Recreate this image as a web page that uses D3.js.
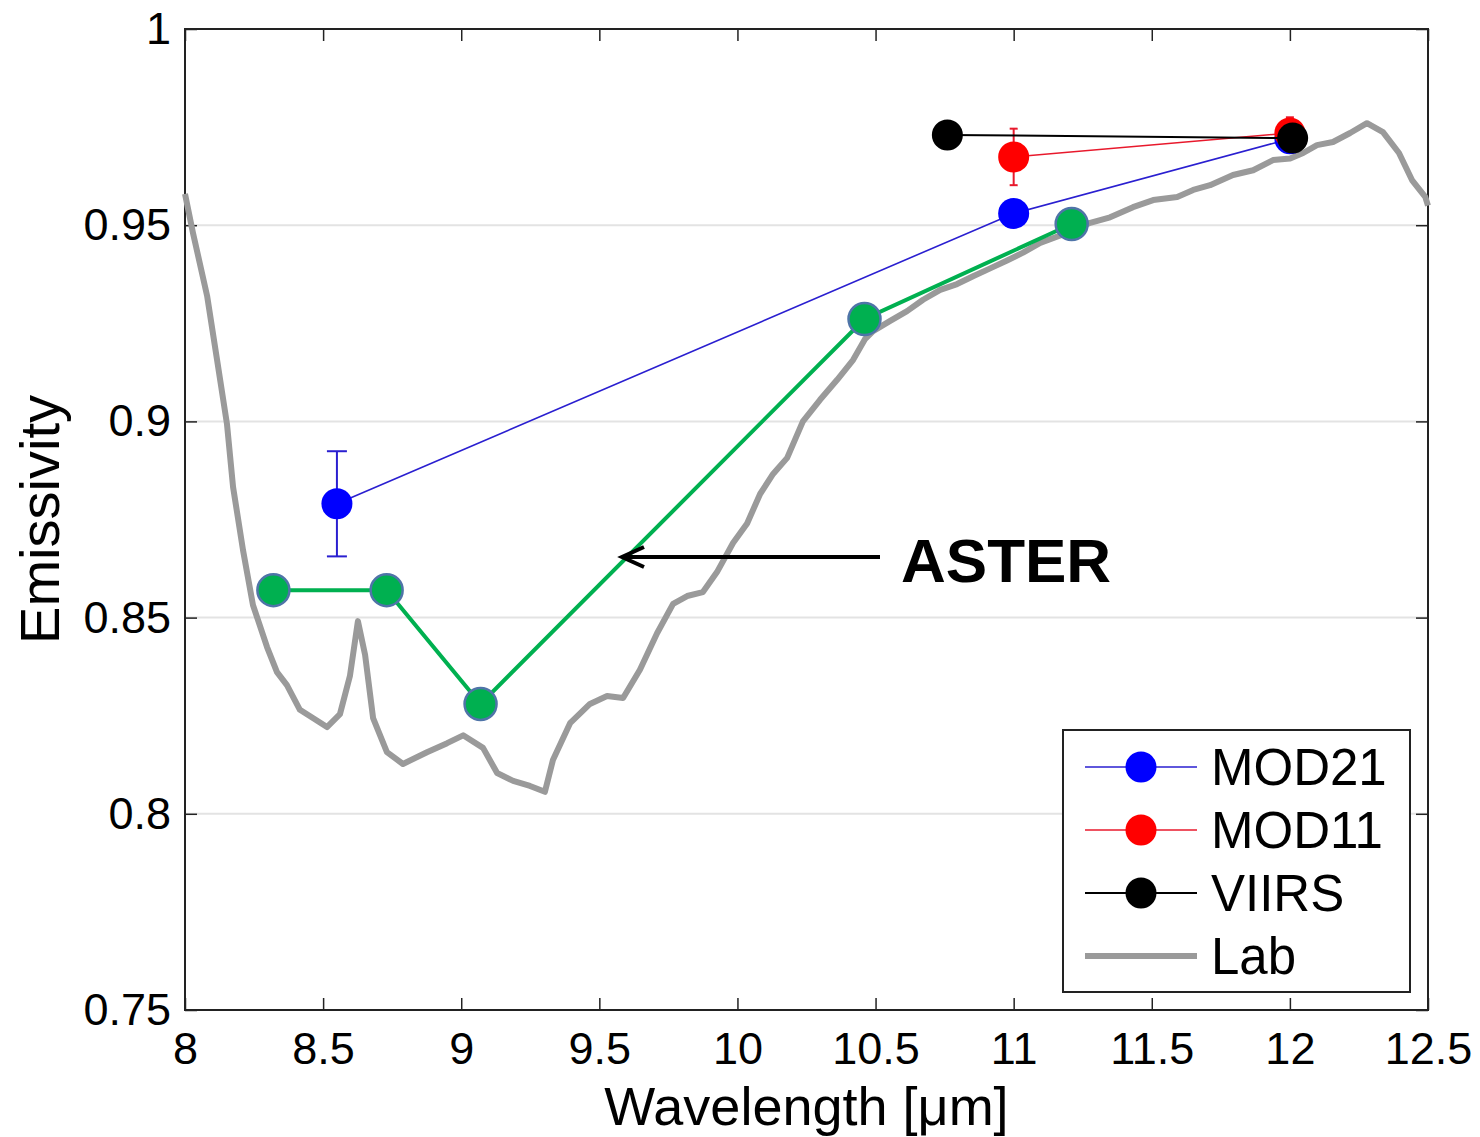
<!DOCTYPE html>
<html>
<head>
<meta charset="utf-8">
<script src="https://cdn.jsdelivr.net/npm/d3@7"></script>
<style>
  html, body { margin: 0; padding: 0; background: #fff; }
  svg { display: block; font-family: "Liberation Sans", Arial, Helvetica, sans-serif; }
</style>
</head>
<body>
<svg id="chart" width="1480" height="1137"></svg>
<script>
// Laboratory emissivity spectrum (wavelength in µm, emissivity)
const labWavelength = [8.0, 8.029, 8.08, 8.116, 8.152, 8.174, 8.21, 8.246, 8.297, 8.333, 8.369, 8.416, 8.463,
  8.514, 8.561, 8.597, 8.626, 8.652, 8.681, 8.731, 8.789, 8.876, 8.949, 9.007, 9.079, 9.13, 9.188, 9.249,
  9.303, 9.332, 9.394, 9.466, 9.528, 9.586, 9.647, 9.709, 9.767, 9.818, 9.875, 9.926, 9.984, 10.035, 10.082,
  10.129, 10.18, 10.237, 10.299, 10.361, 10.419, 10.462, 10.491, 10.553, 10.614, 10.672, 10.734, 10.795,
  10.853, 10.915, 10.976, 11.034, 11.096, 11.193, 11.277, 11.349, 11.432, 11.505, 11.592, 11.65, 11.711,
  11.794, 11.867, 11.939, 12.001, 12.048, 12.098, 12.156, 12.218, 12.279, 12.337, 12.395, 12.442, 12.49, 12.5];
const labEmissivity = [0.958, 0.948, 0.932, 0.9157, 0.8993, 0.8833, 0.8672, 0.8532, 0.8425, 0.8361, 0.8328,
  0.8265, 0.8244, 0.8221, 0.8254, 0.8351, 0.8491, 0.8405, 0.8244, 0.8157, 0.8127, 0.8157, 0.818, 0.820,
  0.8168, 0.8104, 0.8084, 0.8071, 0.8056, 0.8137, 0.8231, 0.828, 0.830, 0.8295, 0.8367, 0.846, 0.8535,
  0.8555, 0.8565, 0.8616, 0.869, 0.874, 0.8815, 0.8866, 0.8907, 0.900, 0.9055, 0.9106, 0.9157, 0.921,
  0.923, 0.9256, 0.9281, 0.931, 0.9335, 0.935, 0.937, 0.939, 0.941, 0.943, 0.9455, 0.948, 0.9506, 0.952,
  0.9546, 0.9564, 0.9572, 0.959, 0.9602, 0.9628, 0.964, 0.9666, 0.967, 0.9684, 0.9704, 0.9712, 0.9735,
  0.976, 0.9737, 0.9684, 0.9615, 0.9572, 0.955];

// ASTER band emissivities
const asterWavelength = [8.32, 8.73, 9.07, 10.46, 11.21];
const asterEmissivity = [0.857, 0.857, 0.828, 0.9261, 0.9503];

// MOD21 band emissivities with uncertainty
const mod21Wavelength = [8.55, 11.0, 12.0];
const mod21Emissivity = [0.879, 0.953, 0.972];
const mod21Error = [0.0134, 0, 0];

// MOD11 band emissivities with uncertainty
const mod11Wavelength = [11.0, 12.0];
const mod11Emissivity = [0.9674, 0.9735];
const mod11Error = [0.0072, 0.004];

// VIIRS band emissivities
const viirsWavelength = [10.76, 12.01];
const viirsEmissivity = [0.973, 0.9722];

const xTicks = [8, 8.5, 9, 9.5, 10, 10.5, 11, 11.5, 12, 12.5];
const yTicks = [0.75, 0.8, 0.85, 0.9, 0.95, 1];
const gridValues = [0.8, 0.85, 0.9, 0.95];

const legendLabels = ["MOD21", "MOD11", "VIIRS", "Lab"];

const svg = d3.select("#chart");
const margin = { left: 185, right: 52, top: 29, bottom: 127 };
const W = 1480, H = 1137;
const iw = W - margin.left - margin.right;
const ih = H - margin.top - margin.bottom;

const x = d3.scaleLinear().domain([8, 12.5]).range([0, iw]);
const y = d3.scaleLinear().domain([0.75, 1]).range([ih, 0]);

const g = svg.append("g").attr("transform", `translate(${margin.left},${margin.top})`);

// horizontal grid lines
g.append("g").selectAll("line").data(gridValues).join("line")
  .attr("x1", 0).attr("x2", iw)
  .attr("y1", d => y(d)).attr("y2", d => y(d))
  .attr("stroke", "#e3e3e3").attr("stroke-width", 2);

const fmt = d => String(+d.toFixed(2));
const tickLen = 12;

// axes with inward ticks on all four sides
const axB = g.append("g").attr("transform", `translate(0,${ih})`)
  .call(d3.axisBottom(x).tickValues(xTicks).tickSizeInner(-tickLen).tickSizeOuter(0).tickPadding(22).tickFormat(fmt));
const axT = g.append("g")
  .call(d3.axisTop(x).tickValues(xTicks).tickSizeInner(-tickLen).tickSizeOuter(0).tickFormat(""));
const axL = g.append("g")
  .call(d3.axisLeft(y).tickValues(yTicks).tickSizeInner(-tickLen).tickSizeOuter(0).tickPadding(14).tickFormat(fmt));
const axR = g.append("g").attr("transform", `translate(${iw},0)`)
  .call(d3.axisRight(y).tickValues(yTicks).tickSizeInner(-tickLen).tickSizeOuter(0).tickFormat(""));

[axB, axT, axL, axR].forEach(a => {
  a.select(".domain").remove();
  a.selectAll(".tick line").attr("stroke", "#222").attr("stroke-width", 1.5);
  a.selectAll(".tick text").attr("fill", "#000").attr("font-size", 45)
    .attr("font-family", "'Liberation Sans', Arial, sans-serif");
});
axB.selectAll(".tick text").attr("dy", "0.71em");

// plot frame
g.append("rect").attr("x", 0).attr("y", 0).attr("width", iw).attr("height", ih)
  .attr("fill", "none").attr("stroke", "#222").attr("stroke-width", 2);

// axis titles
svg.append("text")
  .attr("x", margin.left + iw / 2).attr("y", 1125)
  .attr("text-anchor", "middle").attr("font-size", 54).attr("fill", "#000")
  .text("Wavelength [\u03bcm]");
svg.append("text")
  .attr("transform", `translate(59,${margin.top + y(0.875)}) rotate(-90)`)
  .attr("text-anchor", "middle").attr("font-size", 56).attr("fill", "#000")
  .text("Emissivity");

const line = d3.line().x(d => x(d[0])).y(d => y(d[1]));

// lab spectrum
const labData = labWavelength.map((w, i) => [w, labEmissivity[i]]);
g.append("path").datum(labData).attr("d", line)
  .attr("fill", "none").attr("stroke", "#9a9a9a").attr("stroke-width", 6)
  .attr("stroke-linejoin", "round");

// ASTER
const asterData = asterWavelength.map((w, i) => [w, asterEmissivity[i]]);
g.append("path").datum(asterData).attr("d", line)
  .attr("fill", "none").attr("stroke", "#00b050").attr("stroke-width", 4);
g.append("g").selectAll("circle").data(asterData).join("circle")
  .attr("cx", d => x(d[0])).attr("cy", d => y(d[1])).attr("r", 16)
  .attr("fill", "#00b050").attr("stroke", "#4f74a8").attr("stroke-width", 2.5);

function drawSeries(ws, es, errs, lineColor, markerColor, lineWidth, capHalf) {
  const data = ws.map((w, i) => [w, es[i], errs ? errs[i] : 0]);
  g.append("path").datum(data).attr("d", line)
    .attr("fill", "none").attr("stroke", lineColor).attr("stroke-width", lineWidth);
  const eb = g.append("g").attr("stroke", lineColor).attr("stroke-width", 2);
  data.filter(d => d[2] > 0).forEach(d => {
    const cx = x(d[0]), y0 = y(d[1] - d[2]), y1 = y(d[1] + d[2]);
    eb.append("line").attr("x1", cx).attr("x2", cx).attr("y1", y0).attr("y2", y1);
    eb.append("line").attr("x1", cx - capHalf).attr("x2", cx + capHalf).attr("y1", y0).attr("y2", y0);
    eb.append("line").attr("x1", cx - capHalf).attr("x2", cx + capHalf).attr("y1", y1).attr("y2", y1);
  });
  g.append("g").selectAll("circle").data(data).join("circle")
    .attr("cx", d => x(d[0])).attr("cy", d => y(d[1])).attr("r", 15.5)
    .attr("fill", markerColor);
}

drawSeries(mod21Wavelength, mod21Emissivity, mod21Error, "#2a1fd0", "#0000ff", 1.6, 10);
drawSeries(mod11Wavelength, mod11Emissivity, mod11Error, "#e8192c", "#ff0000", 1.6, 4);
drawSeries(viirsWavelength, viirsEmissivity, null, "#000000", "#000000", 2, 0);

// ASTER annotation
const arrowY = 557, arrowX0 = 880, arrowX1 = 622;
g.append("line")
  .attr("x1", arrowX0 - margin.left).attr("x2", arrowX1 - margin.left + 2)
  .attr("y1", arrowY - margin.top).attr("y2", arrowY - margin.top)
  .attr("stroke", "#000").attr("stroke-width", 4);
g.append("path")
  .attr("d", `M${arrowX1 - margin.left + 22},${arrowY - margin.top - 10} L${arrowX1 - margin.left},${arrowY - margin.top} L${arrowX1 - margin.left + 22},${arrowY - margin.top + 10}`)
  .attr("fill", "none").attr("stroke", "#000").attr("stroke-width", 4);
svg.append("text").attr("x", 901).attr("y", 582)
  .attr("font-size", 62).attr("font-weight", "bold").attr("fill", "#000")
  .text("ASTER");

// legend
const leg = svg.append("g");
leg.append("rect").attr("x", 1063).attr("y", 730).attr("width", 347).attr("height", 262)
  .attr("fill", "#fff").attr("stroke", "#222").attr("stroke-width", 2);
const legendStyles = [
  { color: "#2a1fd0", marker: "#0000ff", w: 1.6 },
  { color: "#e8192c", marker: "#ff0000", w: 1.6 },
  { color: "#000", marker: "#000", w: 2 },
  { color: "#9a9a9a", marker: null, w: 6 }
];
legendLabels.forEach((lab, i) => {
  const cy = 767 + i * 63;
  const s = legendStyles[i];
  leg.append("line").attr("x1", 1085).attr("x2", 1197).attr("y1", cy).attr("y2", cy)
    .attr("stroke", s.color).attr("stroke-width", s.w);
  if (s.marker) leg.append("circle").attr("cx", 1141).attr("cy", cy).attr("r", 15.5).attr("fill", s.marker);
  leg.append("text").attr("x", 1211).attr("y", cy + 18).attr("font-size", 51).attr("fill", "#000").text(lab);
});
</script>
</body>
</html>
